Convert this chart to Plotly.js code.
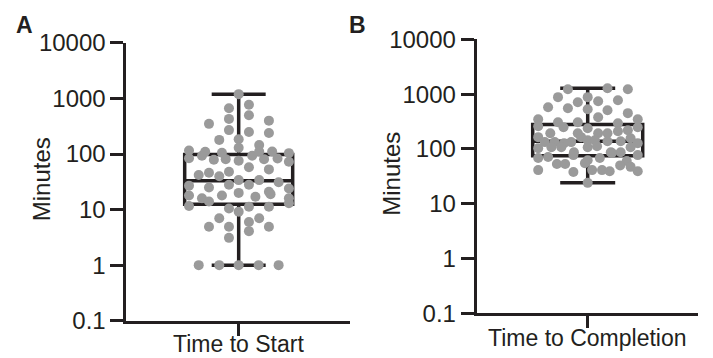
<!DOCTYPE html>
<html>
<head>
<meta charset="utf-8">
<script src="https://cdn.plot.ly/plotly-3.0.1.min.js"></script>
<style>html,body{margin:0;padding:0;background:#fff;}#chart{width:713px;height:358px;}</style>
</head>
<body>
<div id="chart"></div>
<script>
// ---- Data (minutes) ----
const categoryA = 'Time to Start';
const categoryB = 'Time to Completion';

// Panel A: individual observations and their beeswarm offsets (box widths)
const startMinutes = [1200,670,770,430,500,350,400,270,250,240,180,185,130,145,
  116,84,93,110,106,79,81,76,93,111,81,111,83,104,73,58,53,
  42,46,40,48,34,34,28,31,27,25,28,24,21,20,18,17,18,16,19,16,14,11.6,13,11.3,10.5,9.2,11.3,
  7.0,7.0,6.0,4.9,4.9,4.9,4.1,3.1,
  1,1,1,1,1];
const startOffsets = [0,-0.09,0.095,-0.09,0.095,-0.275,0.28,-0.09,0.095,0.28,-0.18,0,0,0.19,
  -0.46,-0.46,-0.34,-0.31,-0.155,-0.23,-0.12,0,0.125,0.19,0.235,0.31,0.36,0.465,0.465,0.095,0.28,
  -0.37,-0.275,-0.18,-0.09,0.19,0,0.095,0.37,-0.46,-0.275,-0.09,0.465,0.28,0,-0.155,0.155,-0.46,-0.34,0.295,0.465,-0.275,-0.46,0.465,0.095,-0.09,0,0.28,
  -0.18,0.19,0.095,-0.275,-0.09,0.28,0.095,-0.09,
  -0.37,-0.18,0,0.185,0.37];
// Panel A box summary
const startQ1 = 12.5, startMedian = 33, startQ3 = 98, startMin = 1, startMax = 1200;

// Panel B
const completionMinutes = [1230,1280,1230,880,880,710,740,775,577,553,530,508,449,379,307,307,
  348,259,249,239,294,219,348,249,193,193,193,193,210,
  164,133,133,127,133,164,144,144,138,138,157,127,
  103,107,107,87,107,112,87,87,107,
  68,71,77,62,68,84,77,60,
  53,53,55,50,47,
  41,38,41,41,39,39,
  24];
const completionOffsets = [-0.18,0.18,0.365,-0.27,0,-0.09,0.095,0.275,-0.36,-0.18,0,0.18,0.365,0.095,-0.27,-0.09,
  -0.45,-0.45,-0.22,0,0.275,0.365,0.455,0.455,-0.34,-0.09,0.095,0.18,0.275,
  -0.45,-0.39,-0.30,-0.215,-0.15,-0.06,0,0.065,0.18,0.3,0.39,0.455,
  -0.45,-0.33,-0.24,-0.125,0,0.085,0.21,0.3,0.39,
  -0.45,-0.36,-0.13,0,0.11,0.22,0.455,0.355,
  -0.28,-0.205,-0.025,0.295,0.39,
  -0.45,-0.13,0.04,0.13,0.2,0.455,
  0];
const completionQ1 = 75, completionMedian = 138, completionQ3 = 280, completionMin = 24, completionMax = 1280;

const yTickVals = [0.1,1,10,100,1000,10000];
const yTickText = ['0.1','1','10','100','1000','10000'];

// ---- Styles ----
const ink = '#231f20';
const dotColor = '#9a9a9a';
const fontFam = 'Liberation Sans, Arial, Helvetica, sans-serif';

function boxTrace(q1, med, q3, lo, hi, xa, ya) {
  return {
    type: 'box', x: [0], q1: [q1], median: [med], q3: [q3],
    lowerfence: [lo], upperfence: [hi], width: 1, whiskerwidth: 0.5,
    boxpoints: false, fillcolor: 'rgba(0,0,0,0)',
    line: {color: ink, width: 3.5}, xaxis: xa, yaxis: ya, hoverinfo: 'skip', showlegend: false
  };
}
function dotTrace(vals, offs, xa, ya) {
  return {
    type: 'scatter', mode: 'markers', x: offs, y: vals,
    marker: {color: dotColor, size: 10, line: {width: 0}},
    xaxis: xa, yaxis: ya, showlegend: false, hoverinfo: 'y'
  };
}

const data = [
  boxTrace(startQ1, startMedian, startQ3, startMin, startMax, 'x', 'y'),
  dotTrace(startMinutes, startOffsets, 'x', 'y'),
  boxTrace(completionQ1, completionMedian, completionQ3, completionMin, completionMax, 'x2', 'y2'),
  dotTrace(completionMinutes, completionOffsets, 'x2', 'y2')
];

function xAxis(domain, range, anchor) {
  return {
    domain: domain, range: range, anchor: anchor,
    showline: true, linewidth: 3, linecolor: ink,
    ticks: 'outside', ticklen: 12, tickwidth: 3, tickcolor: ink,
    tickvals: [0], showticklabels: false,
    showgrid: false, zeroline: false, automargin: false
  };
}
function yAxis(domain, anchor) {
  return {
    type: 'log', range: [-1, 4], domain: domain, anchor: anchor,
    showline: true, linewidth: 3, linecolor: ink,
    ticks: 'outside', ticklen: 13, tickwidth: 3, tickcolor: ink,
    tickvals: yTickVals, ticktext: yTickText,
    showgrid: false, zeroline: false, automargin: false,
    tickfont: {family: fontFam, size: 24, color: ink}
  };
}

const layout = {
  width: 713, height: 358,
  margin: {l: 0, r: 0, t: 0, b: 0},
  paper_bgcolor: '#ffffff', plot_bgcolor: '#ffffff',
  showlegend: false,
  font: {family: fontFam, color: ink},
  xaxis: xAxis([0.1774, 0.4909], [-1.039, 1.031], 'y'),
  yaxis: yAxis([0.1042, 0.8799], 'x'),
  xaxis2: xAxis([0.6686, 0.979], [-1.009, 1.003], 'y2'),
  yaxis2: yAxis([0.1249, 0.8902], 'x2'),
  annotations: [
    {text: categoryA, xref: 'x', yref: 'paper', x: 0, y: 0.04,
     showarrow: false, xanchor: 'center', yanchor: 'middle', font: {family: fontFam, size: 23, color: ink}},
    {text: categoryB, xref: 'x2', yref: 'paper', x: 0, y: 0.057,
     showarrow: false, xanchor: 'center', yanchor: 'middle', font: {family: fontFam, size: 23, color: ink}},
    {text: 'Minutes', xref: 'paper', yref: 'paper', x: 0.0585, y: 0.4986, textangle: -90,
     showarrow: false, xanchor: 'center', yanchor: 'middle', font: {family: fontFam, size: 24, color: ink}},
    {text: 'Minutes', xref: 'paper', yref: 'paper', x: 0.5494, y: 0.514, textangle: -90,
     showarrow: false, xanchor: 'center', yanchor: 'middle', font: {family: fontFam, size: 24, color: ink}},
    {text: '<b>A</b>', xref: 'paper', yref: 'paper', x: 0.0337, y: 0.9288,
     showarrow: false, xanchor: 'center', yanchor: 'middle', font: {family: fontFam, size: 23, color: ink}},
    {text: '<b>B</b>', xref: 'paper', yref: 'paper', x: 0.5014, y: 0.9288,
     showarrow: false, xanchor: 'center', yanchor: 'middle', font: {family: fontFam, size: 23, color: ink}}
  ]
};

Plotly.newPlot('chart', data, layout, {staticPlot: true, displayModeBar: false});
</script>
</body>
</html>
